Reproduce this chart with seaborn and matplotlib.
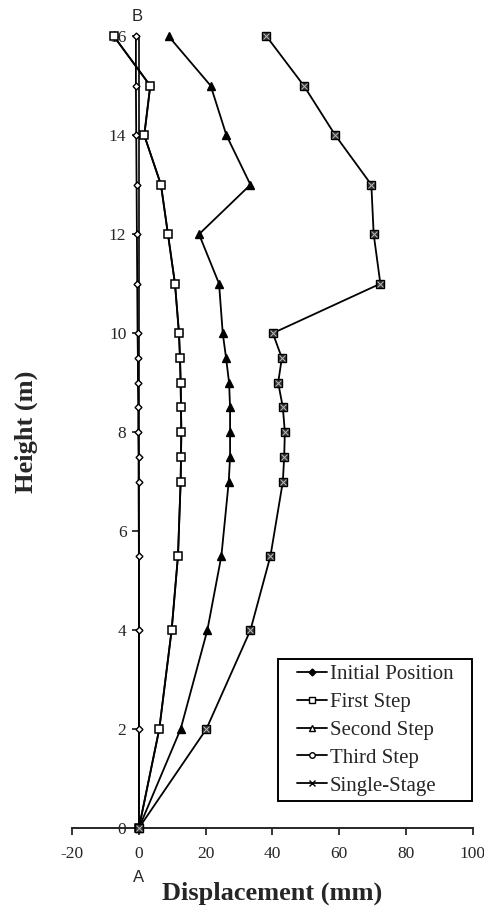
import pandas as pd
import matplotlib.pyplot as plt
import seaborn as sns
from matplotlib.lines import Line2D
from matplotlib.patches import Rectangle

# Heights (m) and displacements (mm)
height = [0, 2, 4, 5.5, 7, 7.5, 8, 8.5, 9, 9.5, 10, 11, 12, 13, 14, 15, 16]
initial = [0, 0, 0, 0, -0.1, -0.1, -0.2, -0.2, -0.3, -0.3, -0.4, -0.5, -0.6, -0.7, -0.8, -0.9, -0.9]
first = [0, 6.1, 9.8, 11.7, 12.5, 12.6, 12.7, 12.6, 12.5, 12.3, 12.0, 10.8, 8.7, 6.6, 1.6, 3.4, -7.5]
second = [0, 12.5, 20.5, 24.7, 26.9, 27.3, 27.3, 27.3, 27.0, 26.1, 25.1, 24.0, 18.0, 33.4, 26.2, 21.5, 8.9]
third = [0, 6.1, 9.8, 11.7, 12.5, 12.6, 12.7, 12.6, 12.5, 12.3, 12.0, 10.8, 8.7, 6.6, 1.6, 3.4, -7.5]
single = [0, 20.2, 33.4, 39.4, 43.1, 43.5, 43.7, 43.1, 41.7, 42.8, 40.1, 72.3, 70.3, 69.6, 58.8, 49.4, 38.2]

series = ['Initial Position', 'First Step', 'Second Step', 'Third Step', 'Single-Stage']
values = [initial, first, second, third, single]

rows = []
for name, vals in zip(series, values):
    for h, d in zip(height, vals):
        rows.append({'series': name, 'Displacement': d, 'Height': h})
df = pd.DataFrame(rows)

sns.set_style('ticks')
plt.rcParams['font.family'] = ['Liberation Serif', 'DejaVu Serif']
plt.rcParams['axes.unicode_minus'] = False

# marker styles per series
styles = {
    'Initial Position': dict(marker='D', markersize=3.5, markerfacecolor='white', markeredgewidth=1.0),
    'First Step': dict(marker='s', markersize=5.5, markerfacecolor='white', markeredgewidth=1.1),
    'Second Step': dict(marker='^', markersize=5.5, markerfacecolor='black', markeredgewidth=1.0),
    'Third Step': dict(marker='o', markersize=4.5, markerfacecolor='white', markeredgewidth=1.0),
    'Single-Stage': dict(marker='s', markersize=5.5, markerfacecolor='#333333', markeredgewidth=1.0),
}
draw_order = ['Third Step', 'Initial Position', 'First Step', 'Second Step', 'Single-Stage']

fig = plt.figure(figsize=(4.84, 9.07), dpi=100)
ax = fig.add_axes([0.149, 0.0871, 0.828, 0.8729])

for name in draw_order:
    sub = df[df['series'] == name]
    sns.lineplot(data=sub, x='Displacement', y='Height', sort=False, estimator=None,
                 color='black', linewidth=1.3, markeredgecolor='black',
                 clip_on=False, ax=ax, zorder=3, legend=False, **styles[name])
    if name == 'Single-Stage':
        sns.lineplot(data=sub, x='Displacement', y='Height', sort=False, estimator=None,
                     color='black', linewidth=0, marker='x', markersize=4.5,
                     markeredgecolor='#bbbbbb', markeredgewidth=0.7,
                     clip_on=False, ax=ax, zorder=4, legend=False)

ax.set_xlim(-20, 100)
ax.set_ylim(0, 16)
ax.set_xticks([-20, 0, 20, 40, 60, 80, 100])
ax.set_yticks([0, 2, 4, 6, 8, 10, 12, 14, 16])
sns.despine(ax=ax)
ax.spines['left'].set_position(('data', 0))
ax.spines['left'].set_linewidth(1.4)
ax.spines['bottom'].set_linewidth(1.4)
ax.tick_params(axis='both', direction='out', length=5, width=1.3, labelsize=12.5)
ax.tick_params(axis='y', pad=4)
ax.tick_params(axis='x', pad=8)

ax.set_xlabel('Displacement (mm)', fontsize=19, fontweight='bold', labelpad=14)
ax.set_ylabel('')
fig.text(0.054, 0.524, 'Height (m)', rotation=90, fontsize=19, fontweight='bold',
         ha='center', va='center')

ax.text(0, -1.0, 'A', fontsize=12, family='Liberation Sans', ha='center', va='center')
ax.text(-0.4, 16.4, 'B', fontsize=12, family='Liberation Sans', ha='center', va='center')

# legend in the original series order, inside a drawn box
leg_styles = {
    'Initial Position': dict(marker='D', markersize=3.5, markerfacecolor='black'),
    'First Step': dict(marker='s', markersize=4, markerfacecolor='white'),
    'Second Step': dict(marker='^', markersize=4, markerfacecolor='white'),
    'Third Step': dict(marker='o', markersize=4, markerfacecolor='white'),
    'Single-Stage': dict(marker='x', markersize=5),
}
leg_handles = [Line2D([], [], color='black', linewidth=1.3, markeredgecolor='black',
                      **leg_styles[name]) for name in series]
box = (0.514, 0.034, 0.4835, 0.1794)
ax.add_patch(Rectangle(box[:2], box[2], box[3], transform=ax.transAxes,
                       facecolor='white', edgecolor='black', linewidth=1.4,
                       zorder=5, clip_on=False))
leg = ax.legend(leg_handles, series, loc='center', bbox_to_anchor=box,
                fontsize=15, frameon=False,
                handlelength=1.45, handletextpad=0.15, labelspacing=0.4,
                borderpad=0.0, borderaxespad=0)
leg.set_zorder(6)

plt.savefig('out.png', dpi=100)
plt.close()
